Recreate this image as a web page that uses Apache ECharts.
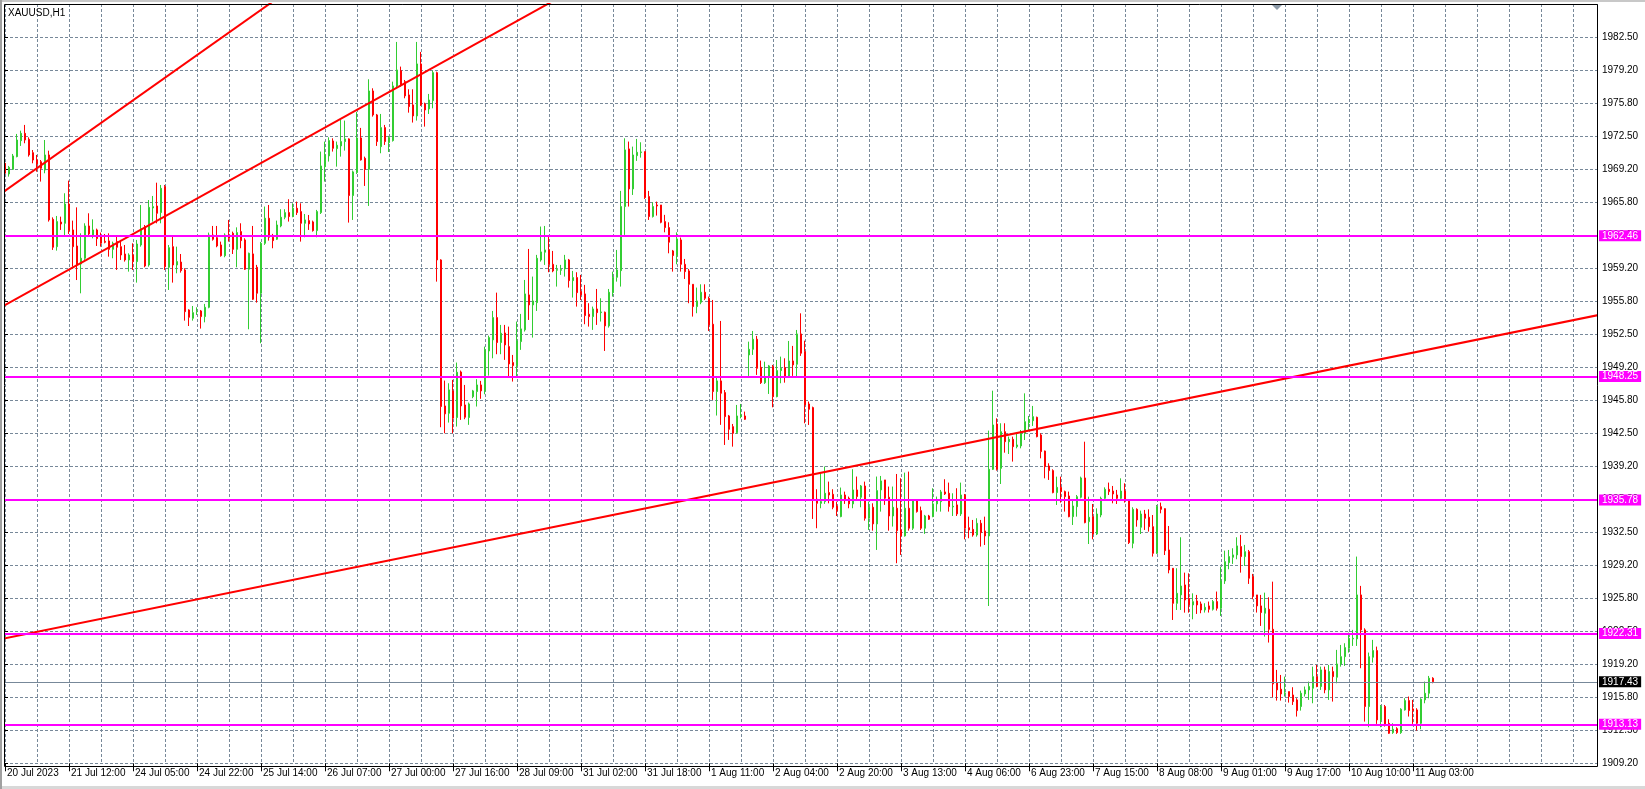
<!DOCTYPE html>
<html><head><meta charset="utf-8">
<script src="https://cdn.jsdelivr.net/npm/echarts@6/dist/echarts.min.js"></script>
<style>html,body{margin:0;padding:0;background:#fff;overflow:hidden}#c{width:1645px;height:789px}</style>
</head><body><div id="c"></div><script>
const symbolTitle = 'XAUUSD,H1';
const timeLabels = ['20 Jul 2023','21 Jul 12:00','24 Jul 05:00','24 Jul 22:00','25 Jul 14:00','26 Jul 07:00','27 Jul 00:00','27 Jul 16:00','28 Jul 09:00','31 Jul 02:00','31 Jul 18:00','1 Aug 11:00','2 Aug 04:00','2 Aug 20:00','3 Aug 13:00','4 Aug 06:00','6 Aug 23:00','7 Aug 15:00','8 Aug 08:00','9 Aug 01:00','9 Aug 17:00','10 Aug 10:00','11 Aug 03:00'];
const barsPerLabel = 16;
const barsPerGrid = 8;
const totalSlots = 399;
const yTickLabels = ['1909.20','1912.50','1915.80','1919.20','1922.50','1925.80','1929.20','1932.50','1935.80','1939.20','1942.50','1945.80','1949.20','1952.50','1955.80','1959.20','1962.50','1965.80','1969.20','1972.50','1975.80','1979.20','1982.50'];
const yMin = 1909.2;
const yStep = 1909.2 / 573;
const yMax = 1985.86;

const open = [
1969.78,1968.70,1969.17,1970.45,1972.06,1972.80,1972.20,1970.85,1970.11,1969.94,
1969.10,1970.62,1964.12,1961.36,1963.85,1963.72,1965.67,1963.05,1961.43,1959.61,
1960.19,1963.45,1962.54,1963.05,1962.37,1961.90,1961.94,1961.09,1961.87,1961.36,
1960.62,1960.02,1960.52,1959.85,1961.53,1963.38,1959.51,1965.27,1965.47,1964.80,
1967.42,1959.28,1961.36,1959.51,1959.81,1959.01,1954.97,1954.13,1954.80,1954.87,
1954.30,1955.24,1962.54,1962.27,1961.53,1960.45,1962.54,1962.71,1961.09,1962.88,
1962.04,1959.08,1960.63,1959.28,1956.66,1961.70,1964.23,1962.31,1962.11,1963.45,
1964.33,1964.80,1964.40,1965.24,1964.90,1963.72,1963.99,1963.86,1962.98,1964.80,
1969.44,1970.52,1972.03,1971.26,1971.53,1971.97,1972.24,1966.52,1968.84,1972.34,
1970.28,1969.17,1977.08,1974.66,1971.46,1973.38,1971.87,1972.07,1977.59,1979.13,
1978.02,1976.68,1975.67,1974.56,1979.81,1975.77,1975.27,1976.11,1978.93,1960.02,
1945.28,1944.54,1946.80,1944.11,1948.71,1945.38,1944.11,1946.22,1946.73,1947.40,
1946.80,1950.83,1951.95,1954.20,1951.68,1952.65,1951.27,1949.66,1949.35,1951.78,
1952.96,1956.49,1955.48,1955.71,1960.02,1960.80,1961.03,1959.58,1958.98,1958.98,
1959.11,1960.02,1957.93,1958.24,1956.83,1956.59,1954.54,1954.30,1955.07,1954.70,
1954.74,1953.36,1956.72,1958.27,1958.94,1965.41,1971.23,1967.19,1970.55,1970.86,
1970.96,1966.42,1964.40,1965.57,1965.57,1963.89,1963.29,1960.93,1960.46,1962.04,
1959.58,1958.91,1957.56,1955.31,1955.75,1956.76,1956.15,1953.53,1946.73,1947.81,
1946.63,1944.27,1943.19,1942.59,1944.20,1944.27,1950.43,1951.00,1952.01,1949.18,
1947.63,1948.17,1949.25,1946.22,1948.85,1949.15,1948.24,1949.82,1949.49,1952.55,
1950.76,1945.48,1945.11,1935.86,1935.45,1935.62,1936.53,1936.36,1935.18,1934.11,
1936.29,1935.96,1935.39,1936.80,1936.06,1937.20,1933.94,1935.05,1933.37,1936.80,
1937.81,1936.06,1934.17,1934.95,1932.76,1932.16,1934.95,1932.93,1935.72,1934.71,
1932.93,1934.17,1934.11,1935.39,1935.62,1936.60,1936.46,1935.08,1935.29,1934.38,
1936.29,1932.99,1932.82,1932.25,1933.43,1932.66,1932.15,1938.88,1943.46,1938.98,
1942.68,1941.67,1941.91,1941.17,1941.24,1942.52,1943.59,1943.79,1944.13,1942.35,
1940.73,1939.22,1938.75,1936.53,1937.06,1936.63,1936.19,1934.10,1935.11,1936.06,
1938.01,1933.60,1934.10,1932.35,1934.27,1935.95,1936.86,1936.69,1936.29,1935.95,
1936.69,1935.72,1931.41,1934.84,1933.03,1934.37,1934.04,1933.09,1930.40,1935.11,
1934.91,1930.74,1928.89,1925.35,1926.20,1927.21,1925.86,1925.19,1925.59,1925.29,
1924.68,1925.09,1924.75,1925.53,1924.85,1927.61,1929.46,1930.00,1930.24,1931.08,
1930.07,1930.57,1928.05,1926.20,1925.09,1924.35,1924.75,1922.73,1917.35,1916.68,
1916.24,1916.44,1916.10,1915.60,1914.93,1916.20,1916.61,1916.78,1917.95,1916.95,
1918.63,1916.61,1918.46,1917.89,1919.23,1919.97,1920.81,1921.76,1921.76,1926.20,
1922.67,1914.93,1919.91,1920.58,1913.58,1914.93,1913.24,1912.30,1912.70,1912.30,
1914.59,1915.53,1914.69,1914.59,1913.24,1915.60,1916.27,1917.79];

const high = [
1971.29,1969.51,1970.72,1972.74,1973.07,1973.65,1972.40,1971.12,1970.62,1970.11,
1972.13,1971.05,1964.32,1964.46,1964.39,1966.75,1968.03,1963.99,1965.33,1962.71,
1963.72,1964.73,1964.12,1963.18,1962.78,1962.64,1962.71,1961.87,1962.44,1962.04,
1961.53,1960.69,1961.70,1962.04,1965.57,1963.55,1966.07,1966.48,1967.82,1967.59,
1967.59,1961.53,1962.37,1961.36,1960.62,1959.18,1955.04,1955.37,1955.24,1954.97,
1955.58,1962.78,1963.45,1963.45,1961.87,1962.71,1964.06,1962.88,1963.31,1963.72,
1962.21,1960.76,1963.45,1959.52,1961.84,1965.41,1965.57,1962.65,1963.99,1965.14,
1965.14,1966.15,1965.74,1965.91,1965.74,1964.66,1964.56,1963.99,1965.07,1970.96,
1971.97,1972.40,1972.30,1971.97,1974.22,1974.09,1972.30,1969.04,1974.96,1973.35,
1970.45,1978.26,1977.35,1974.76,1974.76,1973.65,1972.54,1978.02,1982.03,1979.54,
1978.19,1977.25,1977.25,1982.03,1981.02,1975.90,1976.78,1979.13,1979.03,1960.09,
1947.84,1947.57,1947.91,1949.66,1948.85,1947.40,1945.62,1946.90,1947.98,1947.81,
1951.27,1952.38,1954.87,1956.72,1953.46,1953.46,1953.29,1950.43,1953.80,1954.57,
1958.00,1961.13,1958.34,1960.53,1963.39,1963.45,1962.38,1960.93,1959.52,1959.52,
1960.53,1960.12,1958.91,1958.78,1958.51,1957.50,1955.65,1955.31,1957.09,1956.15,
1954.81,1957.09,1958.84,1961.03,1966.99,1972.30,1971.97,1971.46,1972.24,1971.90,
1970.96,1966.99,1965.84,1965.91,1965.57,1964.57,1963.82,1961.03,1962.81,1962.28,
1960.12,1959.11,1957.56,1957.23,1957.56,1957.56,1956.32,1955.98,1948.24,1953.86,
1946.89,1944.37,1943.46,1945.38,1945.48,1944.71,1951.77,1952.85,1952.35,1949.86,
1949.75,1949.42,1949.42,1949.92,1950.26,1950.09,1951.84,1951.34,1952.95,1954.63,
1951.87,1945.72,1945.21,1936.87,1938.48,1939.16,1937.64,1936.87,1935.62,1937.04,
1936.63,1936.13,1938.89,1938.15,1937.30,1937.64,1935.62,1935.45,1938.15,1938.21,
1937.81,1937.14,1937.14,1938.41,1937.98,1938.55,1938.65,1935.86,1935.86,1935.12,
1934.28,1934.28,1936.97,1936.13,1936.80,1937.88,1937.54,1936.46,1936.97,1937.54,
1936.39,1934.10,1933.77,1933.94,1933.77,1934.10,1942.79,1946.82,1944.03,1943.53,
1943.53,1942.18,1942.18,1942.52,1942.85,1946.55,1944.27,1945.28,1944.20,1942.52,
1940.77,1939.49,1938.88,1938.14,1938.14,1936.73,1936.63,1935.72,1936.29,1938.14,
1941.67,1936.12,1935.38,1934.94,1936.12,1937.06,1937.54,1937.20,1936.80,1937.97,
1937.47,1935.72,1935.05,1934.94,1934.71,1934.78,1934.84,1934.27,1935.28,1935.52,
1934.94,1933.16,1928.89,1928.89,1932.02,1928.45,1928.38,1926.36,1926.20,1925.53,
1925.36,1925.53,1925.69,1926.54,1929.06,1930.67,1930.74,1930.91,1932.02,1932.26,
1931.25,1930.74,1928.32,1926.20,1926.20,1926.43,1925.96,1927.54,1918.63,1918.12,
1917.95,1916.44,1916.88,1915.77,1916.54,1916.95,1917.45,1918.96,1919.13,1918.96,
1918.96,1919.13,1918.96,1920.65,1921.15,1921.32,1922.40,1922.67,1930.07,1927.11,
1922.83,1920.38,1921.66,1920.98,1915.09,1915.09,1913.65,1913.24,1912.84,1914.76,
1915.77,1915.94,1915.60,1914.76,1915.77,1917.45,1918.02,1917.89];

const low = [
1968.43,1968.43,1969.10,1970.38,1971.53,1971.80,1970.45,1969.78,1968.93,1967.93,
1968.77,1963.89,1961.03,1960.96,1963.05,1962.37,1962.64,1959.34,1957.99,1956.65,
1960.02,1962.37,1962.20,1961.43,1961.36,1961.70,1960.35,1960.19,1959.01,1960.02,
1959.85,1958.84,1959.01,1957.73,1961.36,1959.28,1959.34,1963.89,1963.72,1963.72,
1959.01,1956.99,1957.73,1958.67,1958.74,1953.89,1953.35,1953.89,1954.47,1953.09,
1953.72,1955.14,1961.97,1961.30,1960.35,1960.29,1961.87,1960.62,1959.28,1961.20,
1959.01,1953.02,1955.98,1955.71,1951.61,1961.54,1961.97,1961.20,1962.04,1963.32,
1964.13,1963.89,1964.33,1964.56,1961.87,1962.31,1963.05,1962.88,1962.31,1964.66,
1967.93,1969.95,1970.96,1969.44,1970.45,1971.06,1963.79,1964.06,1968.70,1970.05,
1967.49,1965.47,1974.49,1971.53,1970.79,1971.63,1970.92,1971.97,1977.45,1977.52,
1976.34,1974.89,1973.89,1974.09,1975.57,1973.48,1974.76,1975.33,1957.83,1943.13,
1942.52,1943.60,1942.52,1943.20,1943.87,1943.94,1943.37,1946.06,1945.22,1946.00,
1946.46,1948.34,1950.09,1950.50,1950.50,1949.93,1948.14,1947.74,1948.14,1950.94,
1952.79,1953.96,1952.18,1954.87,1959.85,1959.52,1958.78,1958.78,1957.33,1958.51,
1958.34,1957.23,1956.22,1955.31,1955.98,1953.53,1953.29,1952.96,1953.46,1953.80,
1950.83,1953.19,1956.32,1957.83,1957.33,1962.55,1965.41,1966.58,1970.02,1970.35,
1966.18,1964.06,1964.30,1964.50,1963.72,1962.81,1960.69,1958.84,1959.58,1958.84,
1958.10,1955.65,1954.30,1954.64,1955.55,1955.98,1952.85,1945.89,1944.31,1943.37,
1941.34,1941.85,1941.17,1942.45,1944.03,1943.87,1948.31,1950.43,1948.41,1947.50,
1947.50,1946.49,1945.14,1946.15,1947.57,1947.63,1948.17,1948.31,1948.17,1950.33,
1943.53,1943.36,1933.87,1932.93,1934.95,1935.39,1935.45,1934.85,1934.17,1934.04,
1935.39,1934.95,1934.95,1935.79,1935.05,1933.70,1932.76,1932.69,1930.74,1934.61,
1935.29,1932.69,1933.10,1929.40,1930.24,1932.09,1932.69,1932.76,1934.51,1932.76,
1932.36,1933.77,1934.04,1934.61,1934.61,1936.29,1934.61,1934.17,1934.17,1934.17,
1931.81,1931.92,1932.08,1932.08,1931.08,1931.24,1925.08,1938.81,1938.75,1937.40,
1940.56,1940.43,1939.66,1941.00,1941.00,1941.84,1942.85,1943.26,1942.11,1939.99,
1937.97,1937.81,1936.46,1935.28,1935.52,1934.61,1934.04,1933.26,1934.10,1935.95,
1933.43,1931.34,1931.81,1932.25,1934.04,1935.79,1936.29,1935.45,1935.38,1935.85,
1935.52,1931.34,1930.91,1933.09,1932.35,1932.76,1932.59,1930.07,1930.33,1934.44,
1930.23,1928.38,1923.67,1924.68,1924.68,1924.41,1924.41,1923.74,1924.28,1924.35,
1924.42,1924.42,1924.62,1924.62,1924.08,1927.31,1928.79,1929.33,1929.80,1928.45,
1929.13,1927.31,1925.76,1924.42,1923.07,1921.99,1921.39,1915.87,1915.53,1915.53,
1915.94,1915.33,1915.09,1913.92,1914.52,1915.94,1915.60,1915.26,1916.88,1916.61,
1916.27,1915.60,1915.43,1917.28,1918.96,1919.03,1920.38,1921.05,1921.05,1918.80,
1913.41,1912.84,1919.37,1913.18,1912.84,1912.91,1912.17,1912.17,1912.17,1912.17,
1914.52,1913.92,1913.18,1912.50,1912.64,1915.26,1915.77,1917.28];

const close = [
1968.77,1969.37,1970.52,1972.13,1972.80,1972.13,1970.62,1970.11,1969.71,1969.27,
1970.62,1964.06,1961.30,1963.89,1963.65,1965.67,1962.98,1961.36,1959.61,1960.19,
1963.45,1962.64,1963.05,1962.17,1961.70,1961.80,1961.09,1961.70,1961.30,1960.52,
1960.02,1960.52,1959.85,1961.63,1963.18,1959.41,1965.33,1965.40,1964.73,1967.25,
1959.34,1961.26,1959.51,1959.85,1958.94,1954.80,1954.23,1954.70,1954.80,1954.30,
1955.24,1962.54,1962.10,1961.43,1960.45,1962.54,1962.20,1961.09,1962.78,1961.97,
1959.08,1960.69,1956.05,1956.66,1961.70,1964.23,1962.31,1961.97,1963.55,1964.33,
1964.80,1964.40,1965.24,1964.80,1963.72,1964.06,1963.66,1962.98,1964.90,1969.51,
1970.62,1972.07,1971.29,1971.60,1971.97,1972.24,1966.52,1968.91,1972.34,1970.12,
1969.17,1977.08,1974.66,1971.97,1973.38,1971.97,1972.37,1977.59,1979.20,1977.69,
1976.58,1975.50,1974.56,1979.81,1975.67,1975.16,1976.17,1978.93,1960.02,1945.22,
1944.48,1946.90,1944.04,1948.68,1945.28,1944.14,1945.48,1946.80,1947.40,1946.80,
1950.94,1952.18,1954.20,1951.68,1952.62,1951.44,1949.52,1949.35,1951.84,1953.06,
1956.59,1955.48,1955.88,1960.19,1960.83,1961.03,1959.58,1958.91,1959.05,1959.05,
1960.02,1957.93,1958.24,1956.72,1956.49,1954.40,1954.30,1955.07,1954.70,1954.77,
1953.36,1956.76,1958.27,1959.01,1965.41,1971.13,1967.19,1970.62,1970.89,1970.93,
1966.31,1964.40,1965.41,1965.47,1963.82,1963.29,1961.81,1960.46,1962.14,1959.58,
1958.84,1957.56,1955.31,1955.88,1956.76,1956.15,1953.46,1946.73,1947.81,1946.56,
1944.20,1942.92,1942.52,1944.27,1944.37,1943.93,1951.00,1952.01,1949.08,1947.63,
1948.17,1949.32,1946.22,1948.85,1949.08,1948.24,1949.82,1949.42,1952.55,1950.60,
1945.38,1944.94,1935.86,1935.45,1935.62,1936.46,1936.29,1935.05,1934.71,1936.29,
1935.86,1935.39,1936.80,1936.13,1937.20,1933.94,1935.05,1933.37,1936.73,1937.71,
1935.96,1934.17,1935.05,1932.69,1932.16,1934.95,1932.93,1935.72,1934.61,1932.93,
1934.17,1933.84,1935.39,1935.72,1936.60,1936.40,1935.12,1935.15,1934.38,1936.29,
1932.93,1932.76,1932.25,1933.43,1932.49,1932.15,1938.88,1943.36,1938.88,1942.68,
1941.67,1941.91,1941.17,1941.34,1942.52,1943.69,1943.86,1944.20,1942.18,1940.67,
1939.15,1938.75,1936.53,1937.06,1936.63,1936.12,1934.10,1935.18,1936.12,1938.01,
1933.50,1934.04,1932.35,1934.37,1935.95,1936.86,1936.63,1936.39,1935.95,1936.69,
1935.72,1931.48,1934.84,1933.77,1934.37,1933.94,1933.09,1930.40,1935.11,1934.84,
1930.67,1928.72,1925.35,1926.36,1927.10,1925.69,1925.19,1925.52,1925.19,1924.68,
1924.95,1924.75,1925.53,1924.85,1927.61,1929.56,1930.07,1930.24,1931.15,1930.07,
1930.57,1927.88,1926.10,1925.09,1924.42,1924.85,1922.73,1917.21,1916.61,1916.20,
1916.31,1915.94,1915.43,1914.52,1916.27,1916.61,1916.95,1917.95,1916.95,1918.63,
1916.61,1918.46,1917.95,1919.23,1919.97,1920.88,1921.82,1921.82,1926.20,1922.67,
1914.93,1919.97,1920.58,1913.58,1914.93,1913.18,1912.23,1912.64,1912.30,1914.66,
1915.53,1914.52,1914.52,1913.24,1915.67,1916.27,1917.79,1917.43];

const levels = [1962.46, 1948.25, 1935.78, 1922.31, 1913.13];
const bidPrice = 1917.43;
// trend lines: two anchor points each, [bar index, price]
const trendLines = [
  [[-2, 1966.44], [72, 1987.55]],
  [[-2, 1955.02], [140, 1986.83]],
  [[-2, 1921.66], [400, 1954.59]]
];

const FONT = 'Liberation Sans';
const lastLabelIdx = (timeLabels.length - 1) * barsPerLabel;
const categories = Array.from({length: totalSlots}, (_, i) => String(i));
const candleData = open.map((o, i) => [o, close[i], low[i], high[i]]);
const showLabel = (i) => i % barsPerLabel === 0 && i <= lastLabelIdx;
const gridDash = {color: '#778899', width: 1, type: [3, 2]};

const chart = echarts.init(document.getElementById('c'), null, {renderer: 'canvas'});
const option = {
  animation: false,
  backgroundColor: '#ffffff',
  grid: {left: 5, right: 48, top: 4, bottom: 25.7, containLabel: false},
  xAxis: [{
    type: 'category', data: categories, boundaryGap: false, position: 'bottom',
    axisLine: {show: false},
    axisTick: {show: true, length: 8, interval: (i) => showLabel(i), lineStyle: {color: '#000', width: 1}},
    axisLabel: {show: true, interval: (i) => showLabel(i), align: 'left', margin: 5,
      formatter: (v, idx) => showLabel(idx) ? timeLabels[idx / barsPerLabel] : '',
      color: '#000', fontSize: 10, fontFamily: FONT, padding: [0, 0, 0, 2]},
    splitLine: {show: false}
  }, {
    // bar-index axis: vertical grid every 8 bars and trend-line coordinates
    type: 'value', min: 0, max: totalSlots - 1, interval: barsPerGrid, position: 'top',
    axisLine: {show: false}, axisTick: {show: false}, axisLabel: {show: false},
    splitLine: {show: true, lineStyle: gridDash}
  }],
  yAxis: [{
    type: 'value', position: 'right', min: yMin, max: yMax, interval: yStep, scale: true,
    axisLine: {show: false},
    axisTick: {show: true, length: 3, lineStyle: {color: '#000'}},
    axisLabel: {show: true, margin: 5, color: '#000', fontSize: 10, fontFamily: FONT,
      formatter: (v) => {
        const k = (v - yMin) / yStep; const r = Math.round(k);
        return (Math.abs(k - r) < 0.01 && yTickLabels[r]) ? yTickLabels[r] : '';
      }},
    splitLine: {show: true, lineStyle: gridDash}
  }],
  series: [{
    type: 'candlestick', xAxisIndex: 0, yAxisIndex: 0, data: candleData,
    barWidth: 2, silent: true, z: 2,
    itemStyle: {color: '#32CD32', color0: '#FF0000', borderColor: '#32CD32', borderColor0: '#FF0000', borderWidth: 1},
    markLine: {
      silent: true, symbol: ['none', 'none'], animation: false,
      data: levels.map(v => ({
        yAxis: v,
        lineStyle: {color: '#FF00FF', width: 2, type: 'solid'},
        label: {show: true, position: 'end', distance: 2, formatter: v.toFixed(2),
          color: '#ffffff', backgroundColor: '#FF00FF', padding: [1, 3, 0, 3],
          fontSize: 10, lineHeight: 10, fontFamily: FONT}
      })).concat([{
        yAxis: bidPrice,
        lineStyle: {color: '#778899', width: 1, type: 'solid'},
        label: {show: true, position: 'end', distance: 2, formatter: bidPrice.toFixed(2),
          color: '#ffffff', backgroundColor: '#000000', padding: [1, 3, 0, 3],
          fontSize: 10, lineHeight: 10, fontFamily: FONT}
      }])
    }
  }].concat(trendLines.map(t => ({
    type: 'line', xAxisIndex: 1, yAxisIndex: 0, data: t, symbol: 'none', silent: true, z: 3,
    clip: true, lineStyle: {color: '#FF0000', width: 2}
  }))),
  graphic: [
    {type: 'rect', shape: {x: 4.5, y: 4.5, width: 1593, height: 762}, style: {fill: 'none', stroke: '#000', lineWidth: 1}, z: 100, silent: true},
    {type: 'rect', shape: {x: 0, y: 0, width: 1645, height: 2}, style: {fill: '#c8c8c8'}, z: 100, silent: true},
    {type: 'rect', shape: {x: 0, y: 786, width: 1645, height: 3}, style: {fill: '#d8d8d8'}, z: 100, silent: true},
    {type: 'rect', shape: {x: 0, y: 0, width: 2, height: 789}, style: {fill: '#a0a0a0'}, z: 100, silent: true},
    {type: 'polygon', shape: {points: [[1272, 5], [1282, 5], [1277, 10]]}, style: {fill: '#8c9aa8'}, z: 100, silent: true},
    {type: 'text', left: 8, top: 8, style: {text: symbolTitle, fill: '#000', fontSize: 10, fontFamily: FONT}, z: 100, silent: true}
  ]
};
chart.setOption(option);
</script></body></html>
